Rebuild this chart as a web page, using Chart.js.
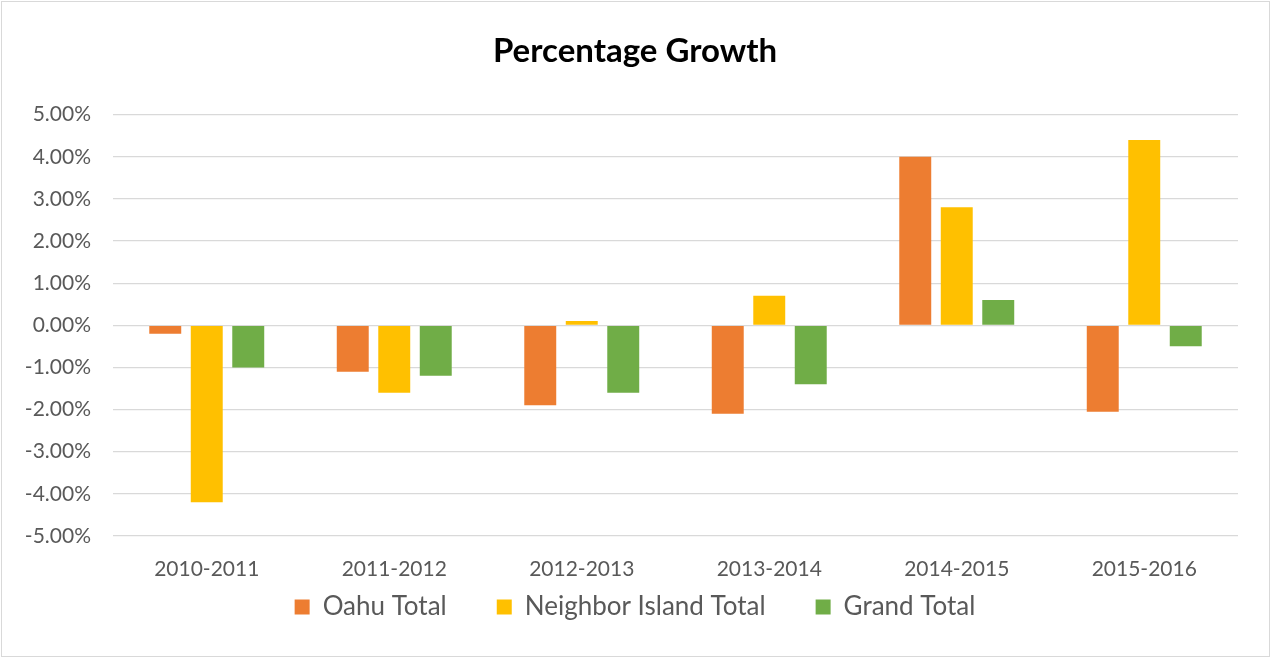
<!DOCTYPE html>
<html>
<head>
<meta charset="utf-8">
<script src="https://cdn.jsdelivr.net/npm/chart.js@4/dist/chart.umd.min.js"></script>
<style>
html, body { margin: 0; padding: 0; background: #fff; }
#wrap { position: relative; width: 1270px; height: 657px; }
#frame { position: absolute; left: 1px; top: 1px; width: 1269px; height: 656px; box-sizing: border-box; border: 1px solid #d9d9d9; pointer-events: none; }
</style>
</head>
<body>
<div id="wrap">
  <canvas id="growthChart" width="1270" height="657"></canvas>
  <div id="frame"></div>
</div>
<script>
// Kategoriat ja sarjat (prosentteina)
const periods = ['2010-2011', '2011-2012', '2012-2013', '2013-2014', '2014-2015', '2015-2016'];
const oahuTotal = [-0.2, -1.1, -1.9, -2.1, 4.0, -2.05];
const neighborTotal = [-4.2, -1.6, 0.1, 0.7, 2.8, 4.4];
const grandTotal = [-1.0, -1.2, -1.6, -1.4, 0.6, -0.5];
const yTicks = [-5, -4, -3, -2, -1, 0, 1, 2, 3, 4, 5];

const textColor = '#595959';
const fontFamily = 'Lato, "Open Sans", sans-serif';

const ctx = document.getElementById('growthChart').getContext('2d');

new Chart(ctx, {
  type: 'bar',
  data: {
    labels: periods,
    datasets: [
      { label: 'Oahu Total', data: oahuTotal, backgroundColor: '#ED7D31' },
      { label: 'Neighbor Island Total', data: neighborTotal, backgroundColor: '#FFC000' },
      { label: 'Grand Total', data: grandTotal, backgroundColor: '#70AD47' }
    ]
  },
  options: {
    responsive: false,
    animation: false,
    categoryPercentage: 0.664,
    barPercentage: 0.77,
    layout: { padding: { left: 0, right: 0, top: 0, bottom: 27 } },
    plugins: {
      title: {
        display: true,
        text: 'Percentage Growth',
        color: '#000',
        font: { family: fontFamily, size: 33, weight: 'bold' },
        padding: { top: 32, bottom: 43 }
      },
      legend: {
        position: 'bottom',
        labels: {
          color: textColor,
          font: { family: fontFamily, size: 26 },
          boxWidth: 15,
          boxHeight: 15,
          padding: 50
        }
      },
      tooltip: { enabled: false }
    },
    scales: {
      x: {
        grid: { display: false },
        border: { display: false },
        // mirror: nimiöt piirretään ilman leikkausta, negatiivinen padding siirtää ne akselin alle
        ticks: { color: textColor, font: { family: fontFamily, size: 21 }, mirror: true, padding: -45.6 },
        afterFit: (s) => { s.height = 8; }
      },
      y: {
        min: yTicks[0],
        max: yTicks[yTicks.length - 1],
        afterBuildTicks: (s) => { s.ticks = yTicks.map(v => ({ value: v })); },
        afterFit: (s) => { s.width = 113; },
        grid: { color: '#d9d9d9', lineWidth: 1.3, drawTicks: false },
        border: { display: false },
        ticks: {
          color: textColor,
          font: { family: fontFamily, size: 21 },
          padding: 22,
          callback: (v) => v.toFixed(2) + '%'
        }
      },
      // tyhjä oikea akseli pitää otsikon ja selitteen keskellä koko leveydellä
      yRight: {
        position: 'right',
        grid: { display: false },
        border: { display: false },
        ticks: { display: false },
        afterFit: (s) => { s.width = 32; }
      }
    }
  }
});
</script>
</body>
</html>
